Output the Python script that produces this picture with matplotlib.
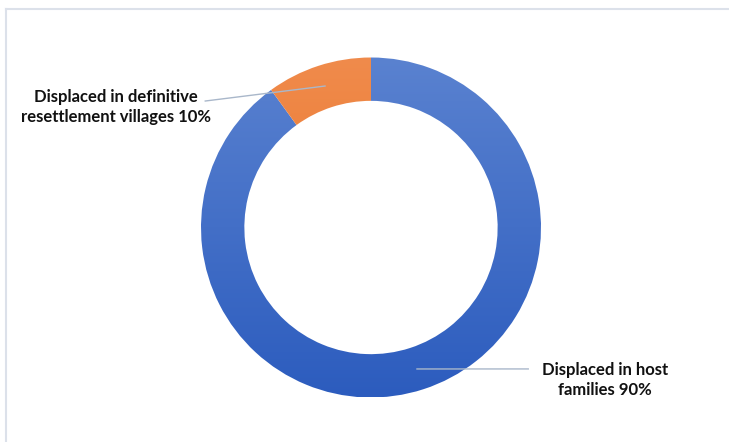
import numpy as np
import matplotlib
matplotlib.use('Agg')
import matplotlib.pyplot as plt
from matplotlib.colors import LinearSegmentedColormap

####################################################################################

FIGURE_XSIZE = 7.29
FIGURE_YSIZE = 4.42
DPI = 100

BORDER_RGB = '#DCE1EA'
LEADER_RGB = '#A9B7CA'

# top / bottom shade of every slice
SLICE_SHADES = [('#5A82D0', '#2C5CBE'), ('#F08B4C', '#E86D1C')]

RING_WIDTH = 0.255
LEADER_RADIUS = 0.875

####################################################################################

categories = ['Displaced in host\nfamilies', 'Displaced in definitive\nresettlement villages']
shares = [90, 10]

# label centres and where each leader line leaves the text
label_xy = [(1.376, -0.895), (-1.50, 0.71)]
leader_start = [(0.925, -0.832), (-0.975, 0.744)]

####################################################################################

def fill_with_gradient(axes, wedge, top_rgb, bottom_rgb):
    cmap = LinearSegmentedColormap.from_list('shade', [bottom_rgb, top_rgb])
    grad = np.linspace(0, 1, 256).reshape(-1, 1)
    image = axes.imshow(grad, cmap=cmap, origin='lower', extent=(-1, 1, -1, 1),
                        aspect='auto', zorder=1, interpolation='bilinear')
    image.set_clip_path(wedge)
    wedge.set_facecolor('none')


figure = plt.figure(figsize=(FIGURE_XSIZE, FIGURE_YSIZE), dpi=DPI, facecolor='white')
axes = figure.add_axes([0, 0, 1, 1])
axes.set_axis_off()

wedges, _ = axes.pie(shares, startangle=90, counterclock=False,
                     wedgeprops=dict(width=RING_WIDTH, linewidth=0, edgecolor='none'))

for wedge, (top, bottom) in zip(wedges, SLICE_SHADES):
    fill_with_gradient(axes, wedge, top, bottom)

for wedge, name, share, xy, start in zip(wedges, categories, shares, label_xy, leader_start):
    mid = np.deg2rad((wedge.theta1 + wedge.theta2) / 2)
    tip = (LEADER_RADIUS * np.cos(mid), LEADER_RADIUS * np.sin(mid))
    axes.plot([start[0], tip[0]], [start[1], tip[1]], color=LEADER_RGB,
              linewidth=1.0, zorder=3)
    axes.text(xy[0], xy[1], f'{name} {share}%', ha='center', va='center',
              fontsize=12, fontweight='bold', family='Lato', color='#111111',
              linespacing=1.3, zorder=4)

# 1 data unit = 170 px, ring centred at (371, 227.5) px
axes.set_xlim(-371 / 170, (729 - 371) / 170)
axes.set_ylim((227.5 - 442) / 170, 227.5 / 170)
axes.set_aspect('auto')

# thin frame along the top and left edge
figure.add_artist(plt.Line2D([6 / 729, 1], [1 - 9 / 442, 1 - 9 / 442], color=BORDER_RGB,
                             linewidth=1.5, transform=figure.transFigure))
figure.add_artist(plt.Line2D([6 / 729, 6 / 729], [0, 1 - 9 / 442], color=BORDER_RGB,
                             linewidth=1.5, transform=figure.transFigure))

plt.savefig('out.png', dpi=DPI)
